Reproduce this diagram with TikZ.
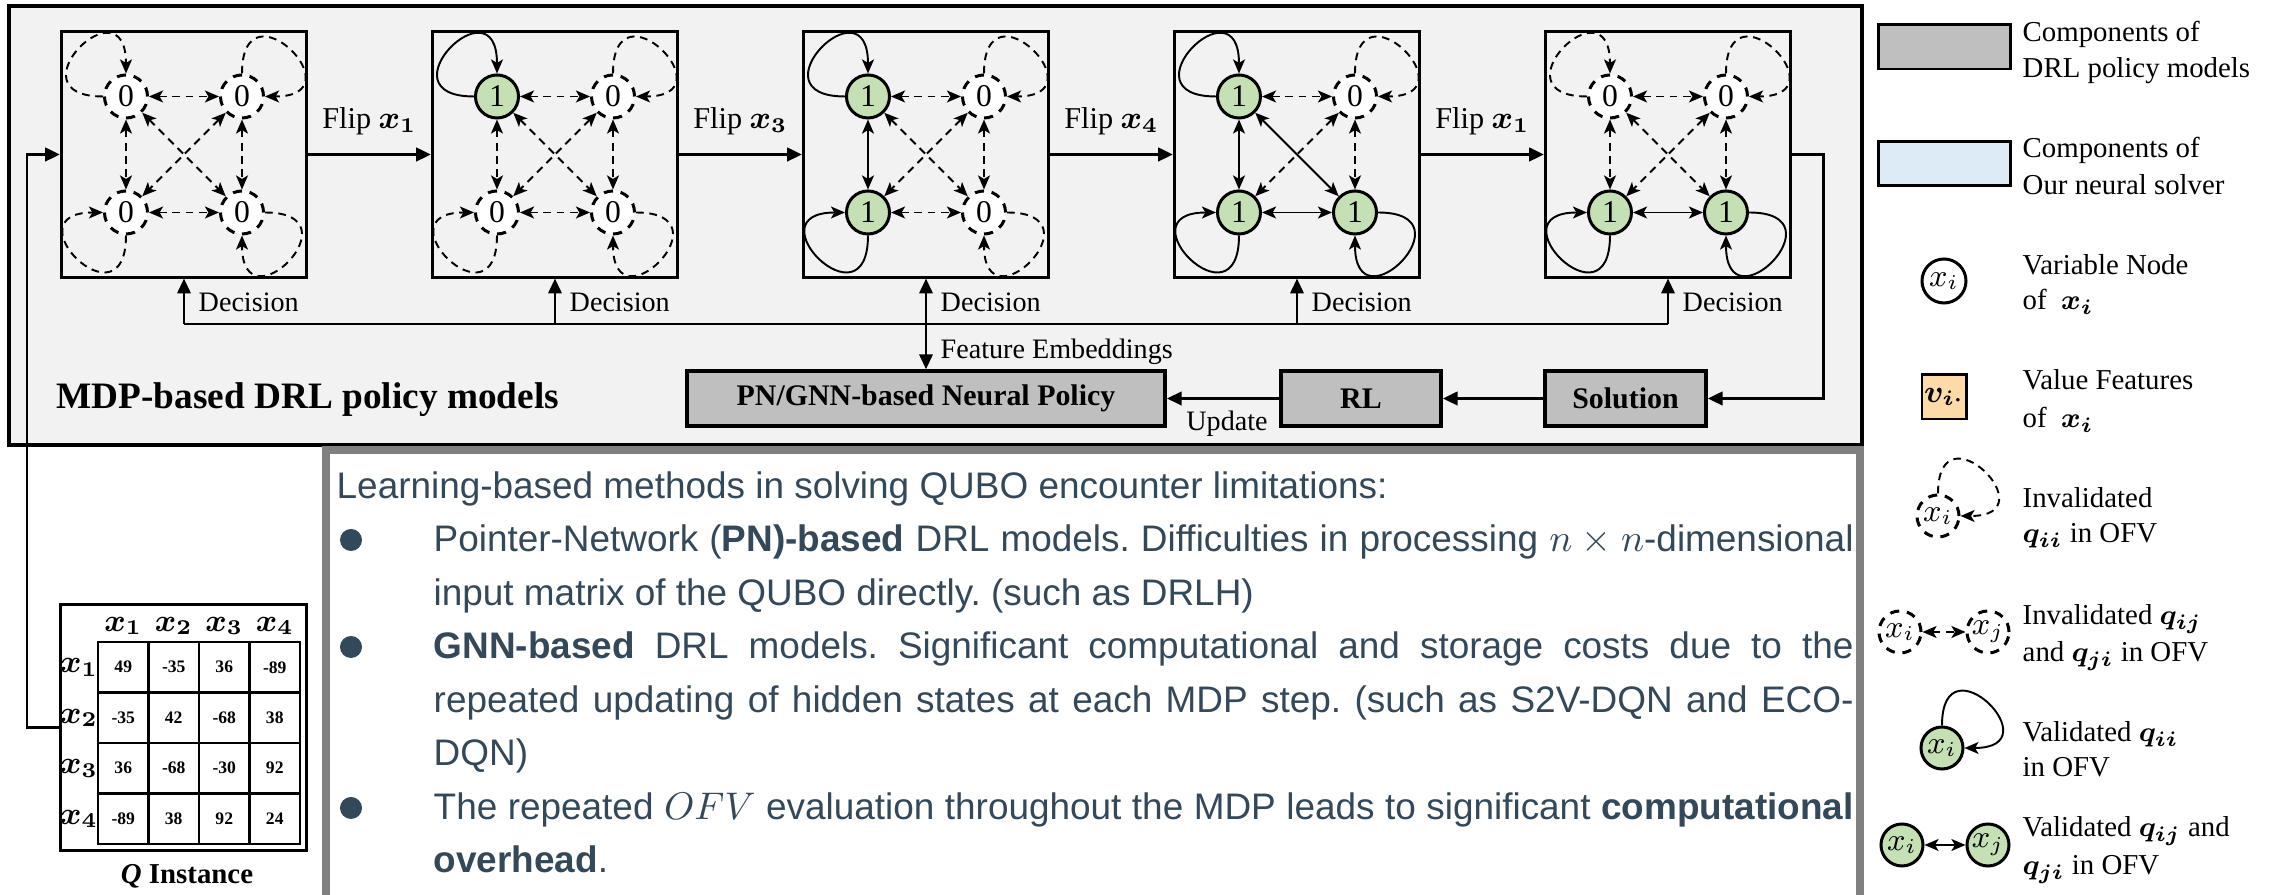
\documentclass[tikz,border=0pt]{standalone}
\usepackage{fontspec}
\setmainfont{Liberation Serif}
\newfontfamily\arialf{Liberation Sans}
\usepackage{bm}
\usetikzlibrary{arrows.meta}
\frenchspacing
\definecolor{bgmdp}{HTML}{F2F2F2}
\definecolor{nodegreen}{HTML}{C5E0B4}
\definecolor{boxgray}{HTML}{BFBFBF}
\definecolor{legblue}{HTML}{DDEBF7}
\definecolor{legorange}{HTML}{FDDBA8}
\definecolor{txtdark}{HTML}{33495A}
\definecolor{framegray}{HTML}{808080}
\newcommand{\setfs}[1]{\fontsize{#1}{#1}\selectfont}
\tikzset{
 etip/.tip={Stealth[length=4pt,width=3.4pt,inset=1pt]},
 ftip/.tip={Triangle[length=4.2pt,width=3.8pt]},
 gbox/.style={draw,line width=0.85pt,minimum width=2.45cm,minimum height=2.45cm,inner sep=0pt},
 vn/.style={circle,draw,line width=0.85pt,minimum size=0.43cm,inner sep=0pt,font=\setfs{9}},
 st1/.style={vn,fill=nodegreen},
 st0/.style={vn,fill=white,dash pattern=on 2.6pt off 2.2pt},
 e11/.style={etip-etip,line width=0.55pt},
 e00/.style={e11,dash pattern=on 2.2pt off 1.6pt},
 e01/.style={e00}, e10/.style={e00},
 lp1/.style={-etip,line width=0.55pt},
 lp0/.style={lp1,dash pattern=on 2.2pt off 1.6pt},
 flow/.style={line width=0.85pt,-ftip},
 dflow/.style={line width=0.6pt,-ftip},
 lab/.style={inner sep=0pt,font=\setfs{8}},
 flab/.style={inner sep=0pt,font=\setfs{8.6}},
 pbox/.style={draw,line width=1pt,fill=boxgray,minimum height=0.55cm,inner sep=0pt,font=\setfs{8.5}\bfseries},
 legt/.style={anchor=base west,inner sep=0pt,font=\setfs{8.2}},
 cell/.style={draw,line width=0.6pt,minimum size=0.505cm,inner sep=0pt,font=\setfs{5}\bfseries},
 mlab/.style={inner sep=0pt,font=\setfs{9}},
 tline/.style={anchor=base west,inner sep=0pt,font=\arialf\setfs{10.5},text=txtdark},
 lnode/.style={circle,draw,line width=0.85pt,minimum size=0.42cm,inner sep=0pt,font=\setfs{9}},
}
\newcommand{\qbox}[6]{%
 \node[gbox] (#1) at (#2,154.5) {};
 \node[st#3] (#1a) at (#2-58,96.5) {#3};
 \node[st#4] (#1b) at (#2+58,96.5) {#4};
 \node[st#5] (#1c) at (#2-58,212.5) {#5};
 \node[st#6] (#1d) at (#2+58,212.5) {#6};
 \draw[lp#3] (#1a.west) .. controls +(180:0.95cm) and +(90:0.95cm) .. (#1a.north);
 \draw[lp#4] (#1b.north) .. controls +(90:0.95cm) and +(0:0.95cm) .. (#1b.east);
 \draw[lp#5] (#1c.south) .. controls +(270:0.95cm) and +(180:0.95cm) .. (#1c.west);
 \draw[lp#6] (#1d.east) .. controls +(0:0.95cm) and +(270:0.95cm) .. (#1d.south);
 \draw[e#3#4] (#1a) -- (#1b);
 \draw[e#3#5] (#1a) -- (#1c);
 \draw[e#3#6] (#1a) -- (#1d);
 \draw[e#4#5] (#1b) -- (#1c);
 \draw[e#4#6] (#1b) -- (#1d);
 \draw[e#5#6] (#1c) -- (#1d);
}
\begin{document}
\begin{tikzpicture}[x=0.01cm,y=-0.01cm]
\useasboundingbox (0,0) rectangle (2274,895);
\clip (0,0) rectangle (2274,895);
\fill[white] (0,0) rectangle (2274,895);
% MDP panel
\draw[line width=1.1pt,fill=bgmdp] (9,6) rectangle (1862,445);
\qbox{g1}{184}{0}{0}{0}{0}
\qbox{g2}{555}{1}{0}{0}{0}
\qbox{g3}{926}{1}{0}{1}{0}
\qbox{g4}{1297}{1}{0}{1}{1}
\qbox{g5}{1668}{0}{0}{1}{1}
\draw[flow] (g1.east) -- node[flab,above=5pt] (f1) {Flip $\bm{x_1}$} (g2.west);
\draw[flow] (g2.east) -- node[flab,above=5pt] (f2) {Flip $\bm{x_3}$} (g3.west);
\draw[flow] (g3.east) -- node[flab,above=5pt] (f3) {Flip $\bm{x_4}$} (g4.west);
\draw[flow] (g4.east) -- node[flab,above=5pt] (f4) {Flip $\bm{x_1}$} (g5.west);
% bottom row
\node[pbox,minimum width=4.78cm] (pn) at (926,398.5) {PN/GNN-based Neural Policy};
\node[pbox,minimum width=1.60cm] (rl) at (1361,398.5) {RL};
\node[pbox,minimum width=1.61cm] (sol) at (1625.5,398.5) {Solution};
\draw[flow] (sol) -- (rl);
\draw[flow] (rl) -- (pn);
\node[lab,anchor=base] (upd) at (1227,431) {Update};
\coordinate (fr1) at (1823,154.5);
\draw[flow] (g5.east) -- (fr1) |- (sol.east);
% decisions
\coordinate (d1) at (184,324);
\coordinate (d2) at (555,324);
\coordinate (d4) at (1297,324);
\coordinate (d5) at (1668,324);
\draw[line width=0.6pt] (d1) -- (d5);
\draw[dflow] (d1) -- (g1.south);
\draw[dflow] (d2) -- (g2.south);
\draw[dflow] (d4) -- (g4.south);
\draw[dflow] (d5) -- (g5.south);
\draw[dflow,ftip-ftip] (g3.south) -- (pn.north);
\node[lab,anchor=base west] (dl1) at (198,312) {Decision};
\node[lab,anchor=base west] (dl2) at (569,312) {Decision};
\node[lab,anchor=base west] (dl3) at (940,312) {Decision};
\node[lab,anchor=base west] (dl4) at (1311,312) {Decision};
\node[lab,anchor=base west] (dl5) at (1682,312) {Decision};
\node[lab,anchor=base west] (fe) at (940,359) {Feature Embeddings};
\node[anchor=base west,inner sep=0pt,font=\setfs{10.6}\bfseries] (mdp) at (56,409) {MDP-based DRL policy models};
% Q matrix
\node[draw,line width=0.85pt,minimum width=2.45cm,minimum height=2.45cm,inner sep=0pt] (qm) at (183.5,727.5) {};
\foreach \r/\c/\v in {1/1/49,1/2/-35,1/3/36,1/4/-89,2/1/-35,2/2/42,2/3/-68,2/4/38,3/1/36,3/2/-68,3/3/-30,3/4/92,4/1/-89,4/2/38,4/3/92,4/4/24}
  \node[cell] (c\r\c) at (123.25+50.5*\c-50.5,667.25+50.5*\r-50.5) {\v};
\foreach \c in {1,2,3,4} {
  \node[mlab] (h\c) at (123.25+50.5*\c-50.5,626) {$\bm{x_{\c}}$};
  \node[mlab] (r\c) at (79,667.25+50.5*\c-50.5) {$\bm{x_{\c}}$};
}
\node[inner sep=0pt,font=\setfs{8.2}\bfseries] (qlab) at (187,876) {\textit{Q} Instance};
\coordinate (fl1) at (27,727.5);
\draw[flow] (qm.west) -- (fl1) |- (g1.west);
% text box
\draw[framegray,line width=2.3pt,fill=white] (326,450) rectangle (1860,910);
\node[tline] (t1) at (336,499) {Learning-based methods in solving QUBO encounter limitations:};
\node[tline] (t2) at (433,552) {\makebox[14.19cm][s]{Pointer-Network (\textbf{PN)-based} DRL models. Difficulties in processing $n\times n$-dimensional}};
\node[tline] (t3) at (433,606) {input matrix of the QUBO directly. (such as DRLH)};
\node[tline] (t4) at (433,659) {\makebox[14.19cm][s]{\textbf{GNN-based} DRL models. Significant computational and storage costs due to the}};
\node[tline] (t5) at (433,713) {\makebox[14.19cm][s]{repeated updating of hidden states at each MDP step. (such as S2V-DQN and ECO-}};
\node[tline] (t6) at (433,766) {DQN)};
\node[tline] (t7) at (433,820) {\makebox[14.19cm][s]{The repeated $OFV$ evaluation throughout the MDP leads to significant \textbf{computational}}};
\node[tline] (t8) at (433,873) {\textbf{overhead}.};
\fill[txtdark] (351,540) circle[radius=0.11cm];
\fill[txtdark] (351,647) circle[radius=0.11cm];
\fill[txtdark] (351,808) circle[radius=0.11cm];
% legend
\node[draw,fill=boxgray,line width=0.85pt,minimum width=1.31cm,minimum height=0.44cm] (lg1) at (1944.5,47) {};
\node[legt] (lt1a) at (2022,42) {Components of};
\node[legt] (lt1b) at (2022,78) {DRL policy models};
\node[draw,fill=legblue,line width=0.85pt,minimum width=1.31cm,minimum height=0.44cm] (lg2) at (1944.5,163.5) {};
\node[legt] (lt2a) at (2022,158) {Components of};
\node[legt] (lt2b) at (2022,195) {Our neural solver};
\node[lnode,fill=white,minimum size=0.44cm] (lg3) at (1944,281) {$x_i$};
\node[legt] (lt3a) at (2022,275) {Variable Node};
\node[legt] (lt3b) at (2022,310) {of~~$\bm{x_i}$};
\node[draw,fill=legorange,line width=0.85pt,minimum size=0.44cm,inner sep=0pt,font=\setfs{9}] (lg4) at (1944,397) {$\bm{v_{i\cdot}}$};
\node[legt] (lt4a) at (2022,390) {Value Features};
\node[legt] (lt4b) at (2022,428) {of~~$\bm{x_i}$};
\node[lnode,fill=white,dash pattern=on 2.6pt off 2.2pt] (lg5) at (1938,516) {$x_i$};
\draw[lp0] (lg5.north) .. controls +(90:0.9cm) and +(0:0.9cm) .. (lg5.east);
\node[legt] (lt5a) at (2022,508) {Invalidated};
\node[legt] (lt5b) at (2022,543) {$\bm{q_{ii}}$ in OFV};
\node[lnode,fill=white,dash pattern=on 2.6pt off 2.2pt] (lg6a) at (1900,632) {$x_i$};
\node[lnode,fill=white,dash pattern=on 2.6pt off 2.2pt] (lg6b) at (1988,632) {$x_j$};
\draw[e00] (lg6a) -- (lg6b);
\node[legt] (lt6a) at (2022,625) {Invalidated $\bm{q_{ij}}$};
\node[legt] (lt6b) at (2022,662) {and $\bm{q_{ji}}$ in OFV};
\node[lnode,fill=nodegreen] (lg7) at (1942,748) {$x_i$};
\draw[lp1] (lg7.north) .. controls +(90:0.9cm) and +(0:0.9cm) .. (lg7.east);
\node[legt] (lt7a) at (2022,742) {Validated $\bm{q_{ii}}$};
\node[legt] (lt7b) at (2022,777) {in OFV};
\node[lnode,fill=nodegreen] (lg8a) at (1902,845) {$x_i$};
\node[lnode,fill=nodegreen] (lg8b) at (1988,845) {$x_j$};
\draw[e11] (lg8a) -- (lg8b);
\node[legt] (lt8a) at (2022,837) {Validated $\bm{q_{ij}}$ and};
\node[legt] (lt8b) at (2022,875) {$\bm{q_{ji}}$ in OFV};
\end{tikzpicture}
\end{document}
